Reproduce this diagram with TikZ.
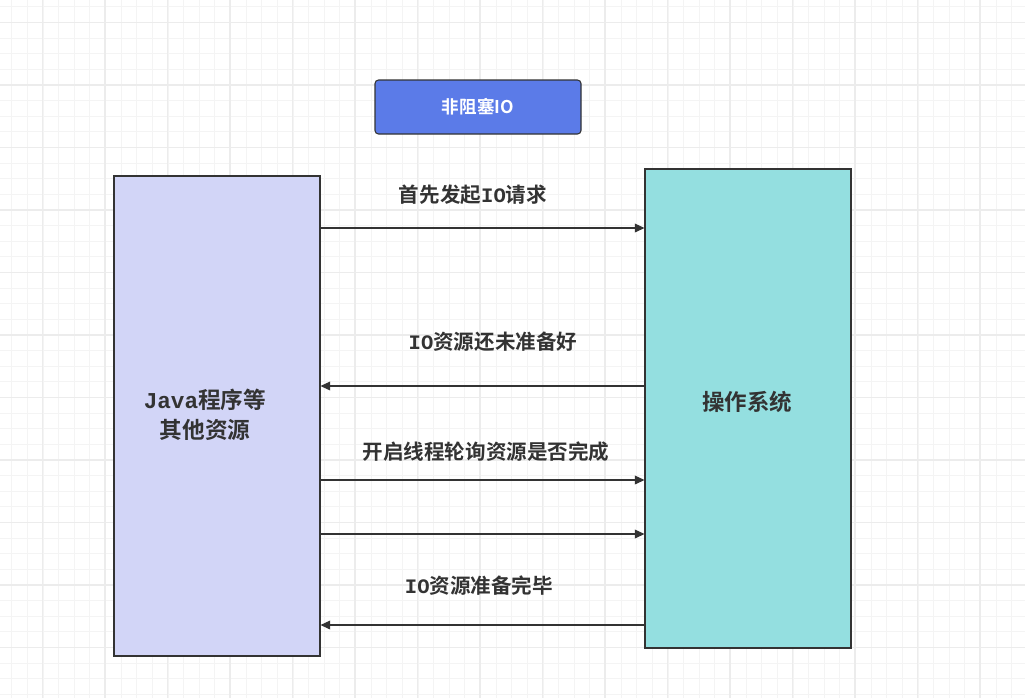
\documentclass[tikz,border=0pt]{standalone}
\usepackage{fontspec}
\setmainfont{Liberation Sans}
\setmonofont{Liberation Mono}
\newfontfamily\cjk{Noto Sans CJK SC Bold}
\newfontfamily\monob{Liberation Mono Bold}
\usetikzlibrary{arrows.meta}
\definecolor{titleblue}{RGB}{91,123,232}
\definecolor{javafill}{RGB}{210,213,247}
\definecolor{osfill}{RGB}{148,223,224}
\definecolor{inkgray}{RGB}{51,51,51}
\definecolor{gridminor}{RGB}{244,244,244}
\definecolor{gridmajor}{RGB}{236,236,236}
\begin{document}
\begin{tikzpicture}[x=0.02cm,y=-0.02cm,
  box/.style={draw=inkgray,line width=0.6pt,minimum width=206*0.02cm,inner sep=0pt},
  msg/.style={draw=inkgray,line width=0.6pt,-{Triangle[length=5.5pt,width=5pt]}},
  lbl/.style={text=inkgray,font=\cjk\fontsize{11.7}{13}\selectfont}]
\useasboundingbox (0,0) rectangle (1025,698);
\fill[white] (0,0) rectangle (1025,698);
% grid
\foreach \gx in {-4,...,66} {
  \draw[gridminor,line width=0.5pt] (11.7+\gx*15.625,0) -- (11.7+\gx*15.625,698);
}
\foreach \gy in {0,...,45} {
  \draw[gridminor,line width=0.5pt] (0,6.7+\gy*15.625) -- (1025,6.7+\gy*15.625);
}
\foreach \gx in {-1,...,16} {
  \draw[gridmajor,line width=0.8pt] (42.3+\gx*62.5,0) -- (42.3+\gx*62.5,698);
}
\foreach \gy in {0,...,11} {
  \draw[gridmajor,line width=0.8pt] (0,22.3+\gy*62.5) -- (1025,22.3+\gy*62.5);
}
% boxes
\node[box,fill=titleblue,rounded corners=2pt,minimum height=54*0.02cm,
  text=white,font=\cjk\fontsize{10}{12}\selectfont] (title) at (478,107) {非阻塞IO};
\node[box,fill=javafill,minimum height=480*0.02cm] (java) at (217,416) {};
\node[box,fill=osfill,minimum height=479*0.02cm] (os) at (748,408.5) {};
\node[text=inkgray,align=center,font=\cjk\fontsize{12.9}{17}\selectfont] (javatxt) at (205,415)
  {{\monob Java}程序等\\其他资源};
\node[text=inkgray,font=\cjk\fontsize{12.8}{14}\selectfont] (ostxt) at (747,402) {操作系统};
% messages
\node[lbl] (m1) at (473,195) {首先发起{\monob IO}请求};
\node[lbl] (m2) at (493,342) {{\monob IO}资源还未准备好};
\node[lbl] (m3) at (486,452) {开启线程轮询资源是否完成};
\node[lbl] (m5) at (479,586) {{\monob IO}资源准备完毕};
\draw[msg] (java.east |- 0,228) -- (os.west |- 0,228);
\draw[msg] (os.west |- 0,386) -- (java.east |- 0,386);
\draw[msg] (java.east |- 0,480) -- (os.west |- 0,480);
\draw[msg] (java.east |- 0,534) -- (os.west |- 0,534);
\draw[msg] (os.west |- 0,625) -- (java.east |- 0,625);
\end{tikzpicture}
\end{document}
